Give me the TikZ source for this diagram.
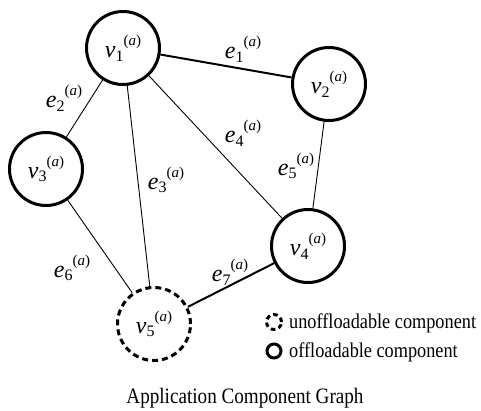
\documentclass[tikz,border=0pt]{standalone}
\usepackage{fontspec}
\setmainfont{Liberation Serif}
\newfontfamily\narrowserif{Liberation Serif}[FakeStretch=0.87]
% vertex / edge label: italic letter, upright index, superscript (a)
\newcommand\gl[2]{\textit{#1}\raisebox{-0.15em}{\fontsize{16}{16}\selectfont #2}\raisebox{0.5em}{\fontsize{15}{15}\selectfont(\textit{a})}}
\begin{document}
\begin{tikzpicture}[x=1pt,y=-1pt,
  comp/.style={circle,draw,line width=3pt,minimum size=73pt,inner sep=0pt,font=\fontsize{24}{24}\selectfont},
  fixedcomp/.style={comp,dash pattern=on 6pt off 4pt},
  thinedge/.style={line width=0.9pt},
  thickedge/.style={line width=2pt},
  elbl/.style={font=\fontsize{24}{24}\selectfont,inner sep=0pt},
  legtext/.style={font=\narrowserif\fontsize{21}{21}\selectfont,anchor=base west,inner sep=0pt}]
\useasboundingbox (0,0) rectangle (481,410);

% components
\node[comp] (v1) at (123,48) {\gl{v}{1}};
\node[comp] (v2) at (329,84) {\gl{v}{2}};
\node[comp] (v3) at (46,169) {\gl{v}{3}};
\node[comp] (v4) at (308,246) {\gl{v}{4}};
\node[fixedcomp] (v5) at (154,324) {\gl{v}{5}};

% dependencies
\draw[thickedge] (v1) -- (v2);
\draw[thinedge] (v1) -- (v3);
\draw[thinedge] (v1) -- (v5);
\draw[thinedge] (v1) -- (v4);
\draw[thinedge] (v2) -- (v4);
\draw[thinedge] (v3) -- (v5);
\draw[thickedge] (v5) -- (v4);

% edge labels
\node[elbl] (e1) at (243,49) {\gl{e}{1}};
\node[elbl] (e2) at (64,98) {\gl{e}{2}};
\node[elbl] (e3) at (166,180) {\gl{e}{3}};
\node[elbl] (e4) at (243,133) {\gl{e}{4}};
\node[elbl] (e5) at (296,166) {\gl{e}{5}};
\node[elbl] (e6) at (72,268) {\gl{e}{6}};
\node[elbl] (e7) at (230,272) {\gl{e}{7}};

% legend
\node[circle,draw,line width=3pt,dash pattern=on 4.5pt off 3.5pt,minimum size=15pt,inner sep=0pt] (l1) at (274,322) {};
\node[legtext] (t1) at (289,328) {unoffloadable component};
\node[circle,draw,line width=3pt,minimum size=14pt,inner sep=0pt] (l2) at (274,351) {};
\node[legtext] (t2) at (289,357) {offloadable component};

% caption
\node[font=\narrowserif\fontsize{22}{22}\selectfont,anchor=base] (cap) at (245,403) {Application Component Graph};
\end{tikzpicture}
\end{document}
